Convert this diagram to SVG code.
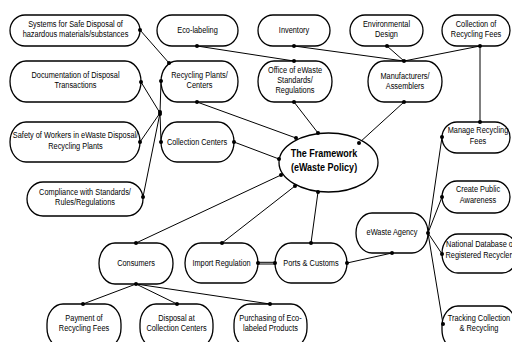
<svg xmlns="http://www.w3.org/2000/svg" width="512" height="342" viewBox="0 0 512 342">
  <style>
    .box { fill: #fff; stroke: #000; stroke-width: 1.3; }
    .lbl { font-family: "Liberation Sans", Arial, sans-serif; font-size: 9px; fill: #000; text-anchor: middle; }
    .big { font-family: "Liberation Sans", Arial, sans-serif; font-size: 11px; font-weight: bold; fill: #000; text-anchor: middle; }
    .wire { stroke: #000; stroke-width: 1; fill: none; }
    .dot { fill: #000; }
  </style>
  <rect width="512" height="342" fill="#fff"/>

  <!-- connectors -->
  <g id="connectors">
    <line class="wire" x1="140" y1="30" x2="169" y2="63"/>
    <line class="wire" x1="141" y1="82" x2="160" y2="113"/>
    <line class="wire" x1="140" y1="142" x2="160" y2="113"/>
    <line class="wire" x1="143" y1="197" x2="160" y2="113"/>
    <line class="wire" x1="161" y1="81" x2="160" y2="113"/>
    <line class="wire" x1="160" y1="113" x2="161" y2="142"/>
    <line class="wire" x1="197" y1="46" x2="294" y2="61"/>
    <line class="wire" x1="294" y1="46" x2="404" y2="61"/>
    <line class="wire" x1="387" y1="46" x2="404" y2="61"/>
    <line class="wire" x1="480" y1="46" x2="404" y2="61"/>
    <line class="wire" x1="480" y1="46" x2="480" y2="122"/>
    <line class="wire" x1="197" y1="102" x2="296" y2="138"/>
    <line class="wire" x1="294" y1="102" x2="318" y2="133"/>
    <line class="wire" x1="404" y1="102" x2="359" y2="143"/>
    <line class="wire" x1="234" y1="142" x2="279" y2="159"/>
    <line class="wire" x1="136" y1="243" x2="281" y2="175"/>
    <line class="wire" x1="222" y1="243" x2="295" y2="186"/>
    <line class="wire" x1="311" y1="243" x2="318" y2="192"/>
    <line class="wire" x1="258" y1="262.3" x2="275" y2="262.3"/>
    <line class="wire" x1="258" y1="264" x2="275" y2="264"/>
    <line class="wire" x1="347" y1="263" x2="392" y2="253"/>
    <line class="wire" x1="428" y1="233" x2="442" y2="137"/>
    <line class="wire" x1="428" y1="233" x2="442" y2="197"/>
    <line class="wire" x1="428" y1="233" x2="442" y2="254"/>
    <line class="wire" x1="428" y1="233" x2="443" y2="324"/>
    <line class="wire" x1="136" y1="284" x2="83" y2="304"/>
    <line class="wire" x1="136" y1="284" x2="177" y2="304"/>
    <line class="wire" x1="136" y1="284" x2="270" y2="304"/>
  </g>

  <!-- nodes -->
  <g id="n-systems">
    <rect class="box" x="10" y="15" width="130" height="31" rx="15" ry="15.5"/>
    <text class="lbl" transform="translate(75.5 0) scale(0.82 1)" y="27.5">Systems for Safe Disposal of</text>
    <text class="lbl" transform="translate(75.5 0) scale(0.82 1)" y="37.5">hazardous materials/substances</text>
  </g>
  <g id="n-documentation">
    <rect class="box" x="10" y="61" width="131" height="41" rx="16" ry="20.5"/>
    <text class="lbl" transform="translate(75.5 0) scale(0.82 1)" y="78.5">Documentation of Disposal</text>
    <text class="lbl" transform="translate(75.5 0) scale(0.82 1)" y="88.5">Transactions</text>
  </g>
  <g id="n-safety">
    <rect class="box" x="10" y="122" width="130" height="40" rx="16" ry="20"/>
    <text class="lbl" transform="translate(75.5 0) scale(0.82 1)" y="138.5">Safety of Workers in eWaste Disposal/</text>
    <text class="lbl" transform="translate(75.5 0) scale(0.82 1)" y="149">Recycling Plants</text>
  </g>
  <g id="n-compliance">
    <rect class="box" x="27" y="182" width="116" height="34" rx="16" ry="17"/>
    <text class="lbl" transform="translate(85 0) scale(0.82 1)" y="195.5">Compliance with Standards/</text>
    <text class="lbl" transform="translate(85 0) scale(0.82 1)" y="205.5">Rules/Regulations</text>
  </g>
  <g id="n-ecolabeling">
    <rect class="box" x="157" y="15" width="81" height="31" rx="15" ry="15.5"/>
    <text class="lbl" transform="translate(197.5 0) scale(0.82 1)" y="33">Eco-labeling</text>
  </g>
  <g id="n-inventory">
    <rect class="box" x="258" y="15" width="72" height="31" rx="15" ry="15.5"/>
    <text class="lbl" transform="translate(294 0) scale(0.82 1)" y="33">Inventory</text>
  </g>
  <g id="n-envdesign">
    <rect class="box" x="350" y="15" width="73" height="31" rx="15" ry="15.5"/>
    <text class="lbl" transform="translate(386.5 0) scale(0.82 1)" y="27">Environmental</text>
    <text class="lbl" transform="translate(386.5 0) scale(0.82 1)" y="37.5">Design</text>
  </g>
  <g id="n-collectionfees">
    <rect class="box" x="442" y="15" width="68" height="31" rx="15" ry="15.5"/>
    <text class="lbl" transform="translate(476 0) scale(0.82 1)" y="27">Collection of</text>
    <text class="lbl" transform="translate(476 0) scale(0.82 1)" y="37.5">Recycling Fees</text>
  </g>
  <g id="n-recyclingplants">
    <rect class="box" x="161" y="61" width="77" height="41" rx="16" ry="20.5"/>
    <text class="lbl" transform="translate(199.5 0) scale(0.82 1)" y="78.5">Recycling Plants/</text>
    <text class="lbl" transform="translate(199.5 0) scale(0.82 1)" y="88.5">Centers</text>
  </g>
  <g id="n-office">
    <rect class="box" x="258" y="61" width="74" height="41" rx="16" ry="20.5"/>
    <text class="lbl" transform="translate(295 0) scale(0.82 1)" y="73">Office of eWaste</text>
    <text class="lbl" transform="translate(295 0) scale(0.82 1)" y="83">Standards/</text>
    <text class="lbl" transform="translate(295 0) scale(0.82 1)" y="93.5">Regulations</text>
  </g>
  <g id="n-manufacturers">
    <rect class="box" x="368" y="61" width="74" height="41" rx="16" ry="20.5"/>
    <text class="lbl" transform="translate(405 0) scale(0.82 1)" y="79">Manufacturers/</text>
    <text class="lbl" transform="translate(405 0) scale(0.82 1)" y="89.5">Assemblers</text>
  </g>
  <g id="n-collectioncenters">
    <rect class="box" x="161" y="122" width="73" height="40" rx="16" ry="20"/>
    <text class="lbl" transform="translate(197 0) scale(0.82 1)" y="145">Collection Centers</text>
  </g>
  <g id="n-framework">
    <ellipse class="box" cx="328.5" cy="162.5" rx="49.5" ry="29.5"/>
    <text class="big" transform="translate(324 0) scale(0.82 1)" y="157.5">The Framework</text>
    <text class="big" transform="translate(324 0) scale(0.82 1)" y="171.5">(eWaste Policy)</text>
  </g>
  <g id="n-managefees">
    <rect class="box" x="442" y="122" width="68" height="31" rx="15" ry="15.5"/>
    <text class="lbl" transform="translate(478 0) scale(0.82 1)" y="133">Manage Recycling</text>
    <text class="lbl" transform="translate(478 0) scale(0.82 1)" y="144">Fees</text>
  </g>
  <g id="n-awareness">
    <rect class="box" x="442" y="181" width="68" height="32" rx="15" ry="16"/>
    <text class="lbl" transform="translate(478 0) scale(0.82 1)" y="192.5">Create Public</text>
    <text class="lbl" transform="translate(478 0) scale(0.82 1)" y="203.5">Awareness</text>
  </g>
  <g id="n-agency">
    <rect class="box" x="356" y="213" width="72" height="40" rx="16" ry="20"/>
    <text class="lbl" transform="translate(392 0) scale(0.82 1)" y="235.5">eWaste Agency</text>
  </g>
  <g id="n-database">
    <rect class="box" x="442" y="234" width="76" height="39" rx="16" ry="19.5"/>
    <text class="lbl" transform="translate(480.5 0) scale(0.82 1)" y="247.5">National Database of</text>
    <text class="lbl" transform="translate(480.5 0) scale(0.82 1)" y="258">Registered Recyclers</text>
  </g>
  <g id="n-tracking">
    <rect class="box" x="442" y="306" width="74" height="44" rx="16" ry="20"/>
    <text class="lbl" transform="translate(479 0) scale(0.82 1)" y="321">Tracking Collection</text>
    <text class="lbl" transform="translate(479 0) scale(0.82 1)" y="331.5">&amp; Recycling</text>
  </g>
  <g id="n-consumers">
    <rect class="box" x="99" y="243" width="74" height="41" rx="16" ry="20.5"/>
    <text class="lbl" transform="translate(136 0) scale(0.82 1)" y="266">Consumers</text>
  </g>
  <g id="n-import">
    <rect class="box" x="185" y="243" width="73" height="40" rx="16" ry="20"/>
    <text class="lbl" transform="translate(221.5 0) scale(0.82 1)" y="266">Import Regulation</text>
  </g>
  <g id="n-ports">
    <rect class="box" x="275" y="243" width="72" height="40" rx="16" ry="20"/>
    <text class="lbl" transform="translate(311 0) scale(0.82 1)" y="266">Ports &amp; Customs</text>
  </g>
  <g id="n-payment">
    <rect class="box" x="47" y="304" width="74" height="44" rx="16" ry="20"/>
    <text class="lbl" transform="translate(84 0) scale(0.82 1)" y="321">Payment of</text>
    <text class="lbl" transform="translate(84 0) scale(0.82 1)" y="331">Recycling Fees</text>
  </g>
  <g id="n-disposal">
    <rect class="box" x="140" y="304" width="73" height="44" rx="16" ry="20"/>
    <text class="lbl" transform="translate(176.5 0) scale(0.82 1)" y="321">Disposal at</text>
    <text class="lbl" transform="translate(176.5 0) scale(0.82 1)" y="331">Collection Centers</text>
  </g>
  <g id="n-purchasing">
    <rect class="box" x="234" y="304" width="73" height="44" rx="16" ry="20"/>
    <text class="lbl" transform="translate(270.5 0) scale(0.82 1)" y="321">Purchasing of Eco-</text>
    <text class="lbl" transform="translate(270.5 0) scale(0.82 1)" y="331">labeled Products</text>
  </g>

  <!-- connection points -->
  <g id="ports">
    <circle class="dot" cx="140" cy="30" r="2"/>
    <circle class="dot" cx="169" cy="63" r="2"/>
    <circle class="dot" cx="141" cy="82" r="2"/>
    <circle class="dot" cx="140" cy="142" r="2"/>
    <circle class="dot" cx="143" cy="197" r="2"/>
    <circle class="dot" cx="161" cy="81" r="2"/>
    <circle class="dot" cx="161" cy="142" r="2"/>
    <circle class="dot" cx="160" cy="112" r="2"/>
    <circle class="dot" cx="160" cy="114" r="2"/>
    <circle class="dot" cx="197" cy="46" r="2"/>
    <circle class="dot" cx="294" cy="61" r="2"/>
    <circle class="dot" cx="294" cy="46" r="2"/>
    <circle class="dot" cx="404" cy="61" r="2"/>
    <circle class="dot" cx="387" cy="46" r="2"/>
    <circle class="dot" cx="480" cy="46" r="2"/>
    <circle class="dot" cx="480" cy="122" r="2"/>
    <circle class="dot" cx="197" cy="102" r="2"/>
    <circle class="dot" cx="296" cy="138" r="2"/>
    <circle class="dot" cx="294" cy="102" r="2"/>
    <circle class="dot" cx="318" cy="133" r="2"/>
    <circle class="dot" cx="404" cy="102" r="2"/>
    <circle class="dot" cx="359" cy="143" r="2"/>
    <circle class="dot" cx="234" cy="142" r="2"/>
    <circle class="dot" cx="279" cy="159" r="2"/>
    <circle class="dot" cx="136" cy="243" r="2"/>
    <circle class="dot" cx="281" cy="175" r="2"/>
    <circle class="dot" cx="222" cy="243" r="2"/>
    <circle class="dot" cx="295" cy="186" r="2"/>
    <circle class="dot" cx="311" cy="243" r="2"/>
    <circle class="dot" cx="318" cy="192" r="2"/>
    <circle class="dot" cx="258" cy="263" r="2"/>
    <circle class="dot" cx="275" cy="263" r="2"/>
    <circle class="dot" cx="347" cy="263" r="2"/>
    <circle class="dot" cx="392" cy="253" r="2"/>
    <circle class="dot" cx="428" cy="233" r="2"/>
    <circle class="dot" cx="442" cy="137" r="2"/>
    <circle class="dot" cx="442" cy="197" r="2"/>
    <circle class="dot" cx="442" cy="254" r="2"/>
    <circle class="dot" cx="443" cy="324" r="2"/>
    <circle class="dot" cx="136" cy="284" r="2"/>
    <circle class="dot" cx="83" cy="304" r="2"/>
    <circle class="dot" cx="177" cy="304" r="2"/>
    <circle class="dot" cx="270" cy="304" r="2"/>
  </g>
</svg>
